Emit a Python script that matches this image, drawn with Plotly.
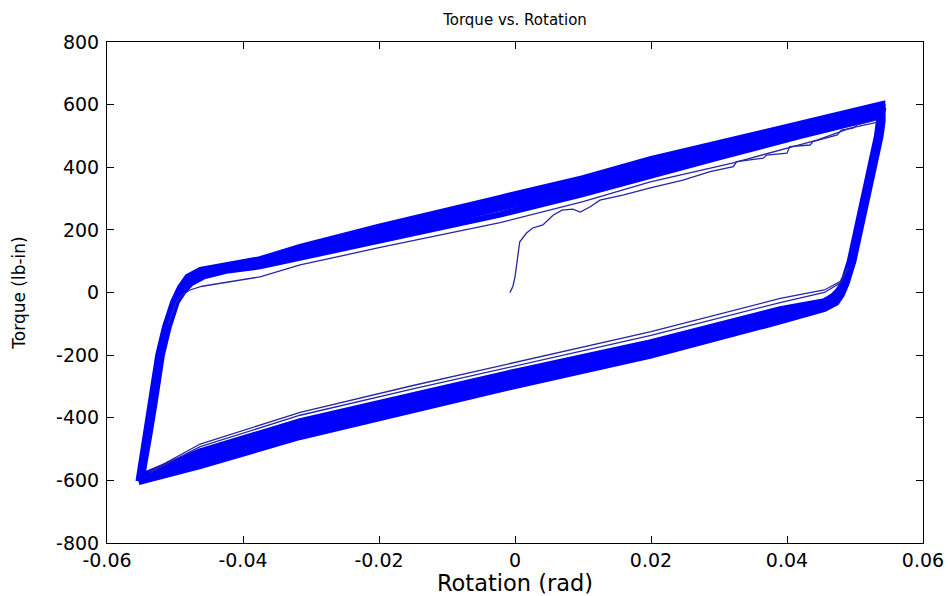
import plotly.graph_objects as go

# ---------------- data ----------------
x_tick_vals = [-0.06, -0.04, -0.02, 0.0, 0.02, 0.04, 0.06]
x_tick_text = ["-0.06", "-0.04", "-0.02", "0", "0.02", "0.04", "0.06"]
y_tick_vals = [-800, -600, -400, -200, 0, 200, 400, 600, 800]
y_tick_text = ["-800", "-600", "-400", "-200", "0", "200", "400", "600", "800"]

# saturated cycles (closed loops): left steep -> upper branch -> right steep -> lower branch
cycle_a_rot = [-0.05535, -0.05475, -0.05425, -0.05345, -0.05245, -0.05145, -0.05025, -0.04925, -0.04815, -0.04625,
               -0.0425, -0.0375, -0.0316, -0.0200, -0.0022, 0.0100, 0.0199, 0.0300, 0.0419, 0.0500, 0.0540,
               0.05405, 0.05375, 0.05275, 0.05145, 0.04975, 0.04875, 0.04805, 0.04725,
               0.0455, 0.0390, 0.0200, 0.0000, -0.0150, -0.0316, -0.0463, -0.0520, -0.05535]
cycle_a_tq = [-603, -520, -450, -343, -200, -110, -30, 16, 50, 72,
              86, 106, 145, 210, 302, 365, 425, 477, 536, 580, 601,
              550, 500, 400, 260, 100, 30, -6, -32,
              -52, -92, -201, -298, -373, -461, -554, -586, -605]

cycle_b_rot = [-0.05518, -0.05458, -0.05408, -0.05328, -0.05228, -0.05128, -0.05008, -0.04908, -0.04798, -0.04608,
               -0.0425, -0.0375, -0.0316, -0.0200, -0.0022, 0.0100, 0.0199, 0.0300, 0.0419, 0.0500, 0.0540,
               0.05388, 0.05358, 0.05258, 0.05128, 0.04958, 0.04858, 0.04788, 0.04708,
               0.0455, 0.0390, 0.0200, 0.0000, -0.0150, -0.0316, -0.0463, -0.0520, -0.05518]
cycle_b_tq = [-598, -520, -450, -343, -200, -110, -30, 12, 43, 65,
              80, 98, 133, 195, 284, 348, 408, 462, 524, 567, 589,
              550, 500, 400, 260, 100, 30, -2, -25,
              -43, -79, -187, -282, -357, -444, -539, -576, -598]

cycle_c_rot = [-0.05502, -0.05442, -0.05392, -0.05312, -0.05212, -0.05112, -0.04992, -0.04892, -0.04782, -0.04592,
               -0.0425, -0.0375, -0.0316, -0.0200, -0.0022, 0.0100, 0.0199, 0.0300, 0.0419, 0.0500, 0.0540,
               0.05372, 0.05342, 0.05242, 0.05112, 0.04942, 0.04842, 0.04772, 0.04692,
               0.0455, 0.0390, 0.0200, 0.0000, -0.0150, -0.0316, -0.0463, -0.0520, -0.05502]
cycle_c_tq = [-592, -520, -450, -343, -200, -110, -30, 8, 37, 59,
              75, 91, 122, 180, 266, 331, 391, 447, 512, 556, 576,
              550, 500, 400, 260, 100, 30, 2, -19,
              -36, -67, -173, -268, -343, -428, -523, -567, -592]

cycle_d_rot = [-0.05485, -0.05425, -0.05375, -0.05295, -0.05195, -0.05095, -0.04975, -0.04875, -0.04765, -0.04575,
               -0.0425, -0.0375, -0.0316, -0.0200, -0.0022, 0.0100, 0.0199, 0.0300, 0.0419, 0.0500, 0.0540,
               0.05355, 0.05325, 0.05225, 0.05095, 0.04925, 0.04825, 0.04755, 0.04675,
               0.0455, 0.0390, 0.0200, 0.0000, -0.0150, -0.0316, -0.0463, -0.0520, -0.05485]
cycle_d_tq = [-587, -520, -450, -343, -200, -110, -30, 4, 30, 52,
              70, 84, 111, 166, 249, 315, 375, 432, 500, 544, 565,
              550, 500, 400, 260, 100, 30, 6, -12,
              -28, -54, -159, -253, -327, -411, -508, -558, -586]

# first (transitional) cycle branches, drawn thin
upper_thin_rot = [-0.0510, -0.0498, -0.0488, -0.0478, -0.0460, -0.0425, -0.0375, -0.0316, -0.0200,
                  -0.0022, 0.0100, 0.0199, 0.0321, 0.0444, 0.0493, 0.0532]
upper_thin_tq = [-100, -30, -5, 8, 20, 33, 50, 88, 143, 223, 290, 353, 414, 487, 525, 543]

lower_thin1_rot = [0.0490, 0.0478, 0.0455, 0.0390, 0.0200, 0.0000, -0.0150, -0.0316, -0.0463, -0.0537]
lower_thin1_tq = [80, 35, 8, -19, -125, -222, -297, -383, -484, -572]
lower_thin2_rot = [0.0490, 0.0478, 0.0455, 0.0390, 0.0200, 0.0000, -0.0150, -0.0316, -0.0463, -0.0537]
lower_thin2_tq = [80, 30, 0, -32, -137, -234, -308, -392, -492, -575]

# initial loading curve
initial_rot = [-0.00075, -0.0003, 0.0000, 0.0004, 0.0007, 0.0017, 0.0026, 0.0041, 0.0056, 0.0069, 0.0085,
               0.0096, 0.0110, 0.0125, 0.0160, 0.0199, 0.0247, 0.0287, 0.0321, 0.0326, 0.0365, 0.0370,
               0.0400, 0.0404, 0.0434, 0.0438, 0.0474, 0.0480, 0.0497, 0.0503, 0.0522, 0.0532]
initial_tq = [-1, 20, 50, 110, 162, 190, 206, 216, 247, 263, 266,
              257, 273, 295, 312, 334, 359, 386, 402, 418, 429, 439,
              445, 466, 471, 482, 503, 519, 525, 535, 545, 551]

# ---------------- figure ----------------
BLUE = "#0000ff"
THIN = "#2626a8"
FONT = "DejaVu Sans"

fig = go.Figure()
for rot, tq in [(cycle_a_rot, cycle_a_tq), (cycle_b_rot, cycle_b_tq),
                (cycle_c_rot, cycle_c_tq), (cycle_d_rot, cycle_d_tq)]:
    fig.add_trace(go.Scatter(x=rot, y=tq, mode="lines",
                             line=dict(color=BLUE, width=6.3), showlegend=False,
                             hoverinfo="skip"))
for rot, tq in [(upper_thin_rot, upper_thin_tq), (lower_thin1_rot, lower_thin1_tq),
                (lower_thin2_rot, lower_thin2_tq), (initial_rot, initial_tq)]:
    fig.add_trace(go.Scatter(x=rot, y=tq, mode="lines",
                             line=dict(color=THIN, width=1.3), showlegend=False,
                             hoverinfo="skip"))

axis_common = dict(showline=True, linecolor="black", linewidth=1, mirror="allticks",
                   ticks="inside", ticklen=7, tickcolor="black", tickwidth=1,
                   showgrid=False, zeroline=False, automargin=False,
                   tickfont=dict(family=FONT, size=19, color="black"))

fig.update_layout(
    width=948, height=596, autosize=False,
    margin=dict(l=107, r=25, t=42, b=53),
    paper_bgcolor="white", plot_bgcolor="white",
    font=dict(family=FONT, color="black"),
    title=dict(text="Torque vs. Rotation", x=0.5, xref="paper", xanchor="center",
               y=1 - 20 / 596, yref="container", yanchor="middle",
               font=dict(family=FONT, size=15, color="black")),
    xaxis=dict(range=[-0.06, 0.06], tickvals=x_tick_vals, ticktext=x_tick_text,
               title=dict(text="Rotation (rad)", font=dict(family=FONT, size=22.5), standoff=0),
               **axis_common),
    yaxis=dict(range=[-800, 800], tickvals=y_tick_vals, ticktext=y_tick_text,
               ticklabelstandoff=3,
               title=dict(text="Torque (lb-in)", font=dict(family=FONT, size=17), standoff=26),
               **axis_common),
)

fig.write_html("out.html", config={"displayModeBar": False},
               post_script="document.body.style.margin='0';document.body.style.padding='0';")
